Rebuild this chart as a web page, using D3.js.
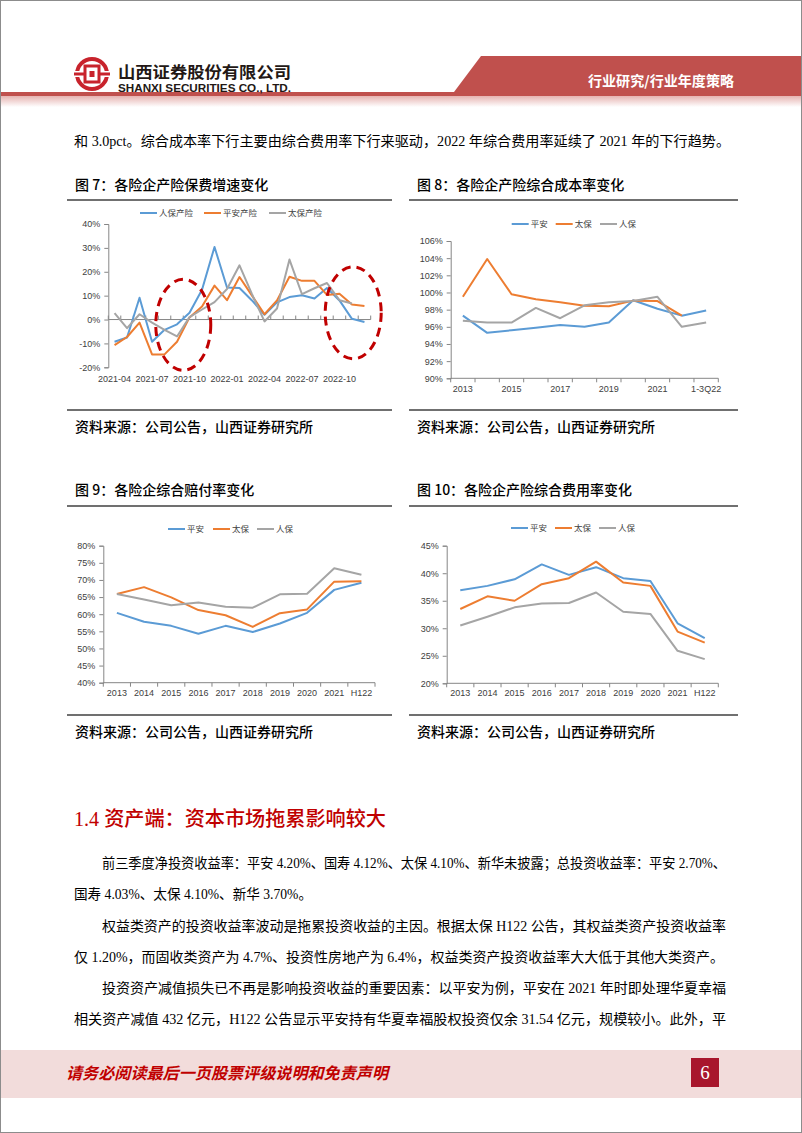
<!DOCTYPE html>
<html><head><meta charset="utf-8">
<script src="https://cdn.jsdelivr.net/npm/d3@7"></script>
<style>
html,body{margin:0;padding:0;background:#fff;}
svg{display:block;}
</style></head>
<body>
<script>
// ---------- DATA ----------
// Figure 7: premium growth (monthly)
const c1Months = ["2021-04","2021-05","2021-06","2021-07","2021-08","2021-09","2021-10","2021-11","2021-12",
  "2022-01","2022-02","2022-03","2022-04","2022-05","2022-06","2022-07","2022-08","2022-09","2022-10","2022-11","2022-12"];
const c1TickLabels = ["2021-04","2021-07","2021-10","2022-01","2022-04","2022-07","2022-10"];
const c1YTicks = [-20,-10,0,10,20,30,40];
const c1Renbao = [-9.3,-7.5,9.1,-9.3,-4.3,-2.0,2.8,12.5,30.4,13.4,13.2,8.0,2.0,7.2,9.4,10.2,8.8,13.2,8.0,0.3,-1.0];
const c1Pingan = [-10.7,-7.3,-1.3,-14.6,-14.6,-9.3,0.9,5.5,14.2,8.1,17.8,10.0,2.2,8.0,17.9,16.2,16.2,10.3,10.8,6.3,5.7];
const c1Taibao = [2.7,-3.6,2.2,-1.3,-4.3,-7.1,1.0,4.2,7.3,12.8,22.7,10.6,-0.8,4.6,25.1,10.6,13.1,15.3,8.1,6.7,null];
const c1Names = ["人保产险","平安产险","太保产险"];

// Figure 8: combined ratio
const c2Years = ["2013","2014","2015","2016","2017","2018","2019","2020","2021","H122","1-3Q22"];
const c2TickLabels = ["2013","2015","2017","2019","2021","1-3Q22"];
const c2YTicks = [90,92,94,96,98,100,102,104,106];
const c2Pingan = [97.3,95.3,95.6,95.9,96.2,96.0,96.5,99.1,98.1,97.3,97.9];
const c2Taibao = [99.5,103.9,99.8,99.2,98.85,98.45,98.4,99.05,99.0,97.3,null];
const c2Renbao = [96.7,96.5,96.5,98.2,97.0,98.5,98.85,99.0,99.5,96.0,96.5];

// Figure 9: loss ratio
const c3Years = ["2013","2014","2015","2016","2017","2018","2019","2020","2021","H122"];
const c3YTicks = [40,45,50,55,60,65,70,75,80];
const c3Pingan = [60.4,57.8,56.6,54.3,56.6,54.8,57.3,60.4,67.1,69.2];
const c3Taibao = [65.9,67.9,64.9,61.2,59.7,56.3,60.3,61.4,69.5,69.6];
const c3Renbao = [65.9,64.3,62.6,63.4,62.2,61.9,65.8,66.0,73.4,71.5];

// Figure 10: expense ratio
const c4Years = ["2013","2014","2015","2016","2017","2018","2019","2020","2021","H122"];
const c4YTicks = [20,25,30,35,40,45];
const c4Pingan = [36.9,37.7,38.9,41.6,39.7,41.1,39.1,38.6,30.9,28.2];
const c4Taibao = [33.5,35.8,35.0,38.0,39.1,42.1,38.3,37.7,29.4,27.4];
const c4Renbao = [30.5,32.1,33.8,34.5,34.6,36.5,33.0,32.6,25.9,24.4];
const c2to4Names = ["平安","太保","人保"];

const COLORS = ["#5b9bd5","#ed7d31","#a5a5a5"];

// ---------- PAGE ----------
const W = 802, H = 1133;
const svg = d3.select("body").append("svg").attr("width", W).attr("height", H);
const defs = svg.append("defs");
const gr = defs.append("linearGradient").attr("id","pinkfade").attr("x1",0).attr("y1",0).attr("x2",0).attr("y2",1);
gr.append("stop").attr("offset","0%").attr("stop-color","#e6b3b1");
gr.append("stop").attr("offset","100%").attr("stop-color","#ffffff");

const SANS = "'Noto Sans CJK SC','Noto Sans',sans-serif";
const SERIF = "'Liberation Serif','Noto Sans CJK SC',serif";
const ARIAL = "'Liberation Sans',Arial,'Noto Sans CJK SC',sans-serif";

// page border
svg.append("rect").attr("x",0.5).attr("y",0.5).attr("width",W-1).attr("height",H-1)
  .attr("fill","none").attr("stroke","#8c8c8c").attr("stroke-width",1);

// header
svg.append("rect").attr("x",1).attr("y",96).attr("width",W-2).attr("height",11).attr("fill","url(#pinkfade)");
svg.append("polygon").attr("points","481,56 801,56 801,96 451,96").attr("fill","#c0504d");
svg.append("rect").attr("x",1).attr("y",92).attr("width",W-2).attr("height",4).attr("fill","#c0504d");
svg.append("text").attr("x",588).attr("y",86).attr("font-family",SANS).attr("font-size",14)
  .attr("font-weight",700).attr("fill","#fff").attr("textLength",146).attr("lengthAdjust","spacingAndGlyphs")
  .text("行业研究/行业年度策略");

// logo
const logo = svg.append("g").attr("transform","translate(92,74)");
logo.append("circle").attr("r",15).attr("fill","none").attr("stroke","#c8232c").attr("stroke-width",4);
logo.append("rect").attr("x",-18).attr("y",-3).attr("width",36).attr("height",6).attr("fill","#fff");
logo.append("rect").attr("x",-18).attr("y",-1.5).attr("width",36).attr("height",3).attr("fill","#c8232c");
logo.append("rect").attr("x",-7).attr("y",-8).attr("width",14).attr("height",16).attr("fill","#fff").attr("stroke","#c8232c").attr("stroke-width",3);
logo.append("rect").attr("x",-2.5).attr("y",-3).attr("width",5).attr("height",6).attr("fill","#c8232c");

svg.append("text").attr("x",118).attr("y",78).attr("font-family",SANS).attr("font-size",16)
  .attr("font-weight",700).attr("fill","#231815").attr("textLength",173).attr("lengthAdjust","spacingAndGlyphs")
  .text("山西证券股份有限公司");
svg.append("text").attr("x",118).attr("y",92).attr("font-family",ARIAL).attr("font-size",11.5)
  .attr("font-weight",700).attr("fill","#231815").attr("textLength",173).attr("lengthAdjust","spacingAndGlyphs")
  .text("SHANXI SECURITIES CO., LTD.");

// first body line
svg.append("text").attr("x",74).attr("y",146).attr("font-family",SERIF).attr("font-size",14)
  .attr("fill","#000").attr("textLength",656).attr("lengthAdjust","spacingAndGlyphs")
  .text("和 3.0pct。综合成本率下行主要由综合费用率下行来驱动，2022 年综合费用率延续了 2021 年的下行趋势。");

// chart frames
function frame(x0, x1, titleY, lineTop, lineBot, srcY, title) {
  svg.append("text").attr("x", x0 + 8).attr("y", titleY).attr("font-family", SANS).attr("font-size", 14)
    .attr("font-weight", 500).attr("fill", "#000").text(title);
  svg.append("line").attr("x1", x0).attr("x2", x1).attr("y1", lineTop).attr("y2", lineTop)
    .attr("stroke", "#404040").attr("stroke-width", 1.3);
  svg.append("line").attr("x1", x0).attr("x2", x1).attr("y1", lineBot).attr("y2", lineBot)
    .attr("stroke", "#404040").attr("stroke-width", 1.3);
  svg.append("text").attr("x", x0 + 8).attr("y", srcY).attr("font-family", SANS).attr("font-size", 14)
    .attr("font-weight", 500).attr("fill", "#000").text("资料来源：公司公告，山西证券研究所");
}
frame(67, 392, 190, 200, 410, 432, "图 7：各险企产险保费增速变化");
frame(409, 738, 190, 200, 410, 432, "图 8：各险企产险综合成本率变化");
frame(67, 392, 495, 506, 715, 737, "图 9：各险企综合赔付率变化");
frame(409, 738, 495, 506, 715, 737, "图 10：各险企产险综合费用率变化");

// ---------- CHART HELPER ----------
function lineChart(cfg) {
  const g = svg.append("g");
  const x = d3.scaleBand().domain(cfg.cats).range(cfg.xr).padding(0);
  const y = d3.scaleLinear().domain(cfg.yd).range(cfg.yr);
  const cx = d => x(d) + x.bandwidth() / 2;
  const axisColor = "#868686";

  // y axis
  const ya = g.append("g").attr("transform", `translate(${cfg.xr[0]},0)`)
    .call(d3.axisLeft(y).tickValues(cfg.yticks).tickSize(4).tickPadding(4).tickFormat(d => d + "%"));
  ya.select(".domain").attr("stroke", axisColor).attr("stroke-width", 1);
  ya.selectAll(".tick line").attr("stroke", axisColor);
  ya.selectAll(".tick text").attr("font-family", ARIAL).attr("font-size", 9).attr("fill", "#404040");

  // x axis line at baseline value
  const yb = y(cfg.xAt);
  g.append("line").attr("x1", cfg.xr[0]).attr("x2", cfg.xr[1]).attr("y1", yb).attr("y2", yb)
    .attr("stroke", axisColor).attr("stroke-width", 1);
  const bounds = cfg.cats.map(d => x(d)).concat([x(cfg.cats[cfg.cats.length - 1]) + x.bandwidth()]);
  g.selectAll(".xt").data(bounds).join("line")
    .attr("x1", d => d).attr("x2", d => d).attr("y1", yb).attr("y2", yb + cfg.tickDir * 4)
    .attr("stroke", axisColor);

  // x labels
  const xa = g.append("g").attr("transform", `translate(0,${cfg.labelY})`)
    .call(d3.axisBottom(x).tickValues(cfg.labels).tickSize(0).tickPadding(0));
  xa.select(".domain").remove();
  xa.selectAll(".tick text").attr("font-family", ARIAL).attr("font-size", 9).attr("fill", "#404040")
    .attr("dy", "0.32em").attr("y", 0);

  // series
  const line = d3.line().defined(d => d[1] != null).x(d => cx(d[0])).y(d => y(d[1]));
  cfg.series.forEach((s, i) => {
    g.append("path").datum(cfg.cats.map((c, k) => [c, s[k]]))
      .attr("d", line).attr("fill", "none").attr("stroke", COLORS[cfg.colorIdx[i]])
      .attr("stroke-width", 2).attr("stroke-linejoin", "round");
  });

  // legend
  const lg = g.append("g").attr("transform", `translate(0,${cfg.legendY})`);
  cfg.names.forEach((n, i) => {
    const lx = cfg.legendX[i];
    lg.append("line").attr("x1", lx).attr("x2", lx + 17).attr("y1", 0).attr("y2", 0)
      .attr("stroke", COLORS[cfg.colorIdx[i]]).attr("stroke-width", 2);
    lg.append("text").attr("x", lx + 19).attr("y", 0).attr("dy", "0.35em")
      .attr("font-family", SANS).attr("font-size", 8.5).attr("fill", "#404040").text(n);
  });
  return { g, x, y };
}

// Figure 7
const ch1 = lineChart({
  cats: c1Months, labels: c1TickLabels, xr: [108.3, 370.7], yd: [-20, 40], yr: [367.3, 224],
  yticks: c1YTicks, xAt: 0, tickDir: -1, labelY: 379,
  series: [c1Renbao, c1Pingan, c1Taibao], colorIdx: [0, 1, 2], names: c1Names,
  legendY: 213, legendX: [140, 204, 269]
});
// red dashed ellipses
const ellipses = [
  { at: "2021-10", off: 0, v: -2.2, rx: 27.5, ry: 45.5 },
  { at: "2022-11", off: 0.6, v: 2.8, rx: 28, ry: 46 }
];
ch1.g.selectAll(".ell").data(ellipses).join("ellipse")
  .attr("cx", d => ch1.x(d.at) + ch1.x.bandwidth() * d.off)
  .attr("cy", d => ch1.y(d.v))
  .attr("rx", d => d.rx).attr("ry", d => d.ry)
  .attr("fill", "none").attr("stroke", "#c00000").attr("stroke-width", 3)
  .attr("stroke-dasharray", "9,6");

// Figure 8
lineChart({
  cats: c2Years, labels: c2TickLabels, xr: [450.7, 718.3], yd: [90, 106], yr: [378.3, 241],
  yticks: c2YTicks, xAt: 90, tickDir: 1, labelY: 389,
  series: [c2Pingan, c2Taibao, c2Renbao], colorIdx: [0, 1, 2], names: c2to4Names,
  legendY: 224, legendX: [511.7, 555.7, 600]
});

// Figure 9
lineChart({
  cats: c3Years, labels: c3Years, xr: [103.3, 375], yd: [40, 80], yr: [682.7, 545.7],
  yticks: c3YTicks, xAt: 40, tickDir: 1, labelY: 693,
  series: [c3Pingan, c3Taibao, c3Renbao], colorIdx: [0, 1, 2], names: c2to4Names,
  legendY: 529, legendX: [168, 213, 257]
});

// Figure 10
lineChart({
  cats: c4Years, labels: c4Years, xr: [446.7, 718.3], yd: [20, 45], yr: [683.3, 545.7],
  yticks: c4YTicks, xAt: 20, tickDir: 1, labelY: 693,
  series: [c4Pingan, c4Taibao, c4Renbao], colorIdx: [0, 1, 2], names: c2to4Names,
  legendY: 528, legendX: [511, 555, 599]
});

// ---------- SECTION TEXT ----------
svg.append("text").attr("x",74).attr("y",826).attr("font-family",SERIF).attr("font-size",20)
  .attr("font-weight",500).attr("fill","#c00000").attr("textLength",312).attr("lengthAdjust","spacingAndGlyphs")
  .text("1.4 资产端：资本市场拖累影响较大");

const paraLines = [
  { x: 102, y: 868, len: 624, t: "前三季度净投资收益率：平安 4.20%、国寿 4.12%、太保 4.10%、新华未披露；总投资收益率：平安 2.70%、" },
  { x: 74,  y: 899, len: 238, t: "国寿 4.03%、太保 4.10%、新华 3.70%。" },
  { x: 102, y: 931, len: 624, t: "权益类资产的投资收益率波动是拖累投资收益的主因。根据太保 H122 公告，其权益类资产投资收益率" },
  { x: 74,  y: 962, len: 650, t: "仅 1.20%，而固收类资产为 4.7%、投资性房地产为 6.4%，权益类资产投资收益率大大低于其他大类资产。" },
  { x: 102, y: 993, len: 624, t: "投资资产减值损失已不再是影响投资收益的重要因素：以平安为例，平安在 2021 年时即处理华夏幸福" },
  { x: 74,  y: 1024, len: 652, t: "相关资产减值 432 亿元，H122 公告显示平安持有华夏幸福股权投资仅余 31.54 亿元，规模较小。此外，平" }
];
svg.selectAll(".para").data(paraLines).join("text")
  .attr("x", d => d.x).attr("y", d => d.y).attr("font-family", SERIF).attr("font-size", 14)
  .attr("fill", "#000").attr("textLength", d => d.len).attr("lengthAdjust", "spacingAndGlyphs")
  .text(d => d.t);

// ---------- FOOTER ----------
svg.append("rect").attr("x",1).attr("y",1050).attr("width",W-2).attr("height",48).attr("fill","#f2dcdb");
svg.append("text").attr("x",66).attr("y",1079).attr("font-family",SANS).attr("font-size",16)
  .attr("font-weight",700).attr("font-style","italic").attr("fill","#c00000")
  .attr("textLength",322).attr("lengthAdjust","spacingAndGlyphs")
  .text("请务必阅读最后一页股票评级说明和免责声明");
svg.append("rect").attr("x",691).attr("y",1058).attr("width",28).attr("height",29).attr("fill","#a8162c");
svg.append("text").attr("x",705).attr("y",1079).attr("text-anchor","middle").attr("font-family",SERIF)
  .attr("font-size",19).attr("fill","#fff").text("6");
</script>
</body></html>
